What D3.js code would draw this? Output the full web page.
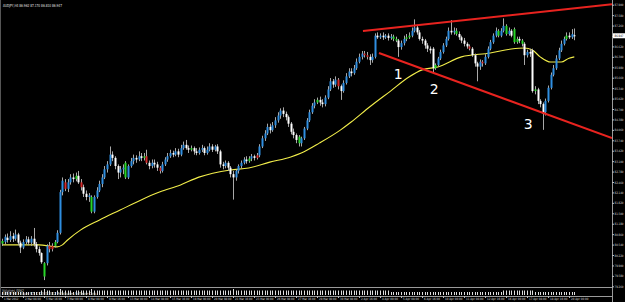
<!DOCTYPE html>
<html>
<head>
<meta charset="utf-8">
<script src="https://cdn.jsdelivr.net/npm/d3@7"></script>
<style>
  body { margin: 0; background: #000; }
  svg { display: block; }
  text { font-family: "DejaVu Sans", sans-serif; }
</style>
</head>
<body>
<svg id="chart" width="625" height="302"></svg>
<script>
// AUDJPY H4 candles (bar 0 = 1 Mar 2012)
let opens = [
  80.57,80.62,80.75,80.68,80.80,80.72,80.85,80.60,80.45,80.62,80.70,80.60,80.72,80.55,80.40,80.28,79.97,79.97,80.50,80.40,
  80.50,80.62,80.90,82.15,82.45,82.25,82.45,82.60,82.55,82.65,82.45,82.30,82.10,82.00,82.00,81.55,82.00,82.20,82.40,82.60,
  82.85,83.00,83.30,83.20,82.95,82.75,82.85,83.05,82.60,82.95,83.10,83.20,83.15,83.25,83.20,83.25,83.05,82.95,83.05,83.00,
  82.90,82.80,83.00,83.15,83.25,83.35,83.30,83.40,83.30,83.50,83.60,83.50,83.45,83.50,83.40,83.35,83.45,83.50,83.35,83.45,
  83.55,83.45,83.55,83.40,83.00,82.95,83.05,82.90,82.70,82.60,82.80,82.95,83.05,83.15,83.10,83.18,83.25,83.20,83.28,83.55,
  83.80,83.95,84.15,84.05,84.20,84.35,84.50,84.65,84.55,84.45,84.25,84.00,83.90,83.85,83.65,83.80,84.10,84.35,84.60,84.80,
  84.90,84.98,84.90,84.85,85.05,85.30,85.55,85.45,85.60,85.40,85.25,85.50,85.70,85.85,85.80,85.95,86.15,86.30,86.40,86.35,
  86.30,86.20,86.30,86.95,86.90,86.95,86.90,86.95,86.88,86.92,86.85,86.80,86.60,86.72,86.85,86.90,86.95,87.10,87.20,87.05,
  86.85,86.80,86.65,86.55,86.55,85.95,86.05,86.25,86.45,86.65,86.85,87.10,87.05,87.10,87.00,86.90,86.80,86.70,86.62,86.55,
  86.35,86.10,86.00,86.15,86.10,86.30,86.55,86.75,86.95,87.10,86.95,87.10,87.25,87.00,87.10,87.15,86.75,86.85,86.80,86.70,
  86.35,86.45,86.50,85.25,85.30,84.95,84.85,84.60,84.95,85.35,85.75,85.95,86.25,86.50,86.70,86.85,86.95,86.90,86.962
]
let highs = [
  80.72,80.85,80.88,80.95,80.90,81.00,80.90,80.66,80.70,80.80,80.78,80.80,81.05,80.62,80.48,80.30,80.00,80.55,80.62,80.58,
  80.68,80.98,82.22,82.60,82.55,82.55,82.70,82.72,82.75,82.80,82.55,82.38,82.20,82.12,82.05,82.05,82.30,82.50,82.70,82.95,
  83.10,83.55,83.40,83.25,83.00,82.95,83.00,83.10,83.00,83.20,83.30,83.28,83.40,83.35,83.35,83.45,83.12,83.15,83.15,83.08,
  82.95,83.08,83.22,83.35,83.45,83.42,83.50,83.48,83.60,83.70,83.75,83.58,83.58,83.55,83.50,83.52,83.60,83.55,83.55,83.65,
  83.62,83.60,83.62,83.45,83.08,83.12,83.10,82.95,82.80,82.85,83.00,83.12,83.22,83.25,83.25,83.32,83.30,83.35,83.62,83.88,
  84.05,84.25,84.25,84.30,84.45,84.60,84.72,84.75,84.62,84.50,84.30,84.10,83.95,83.90,83.85,84.15,84.42,84.68,84.88,85.00,
  85.05,85.08,85.00,85.12,85.40,85.65,85.62,85.70,85.65,85.45,85.58,85.80,85.95,85.95,86.05,86.25,86.40,86.48,86.48,86.45,
  86.38,86.40,87.02,87.05,87.02,87.05,87.00,87.02,87.00,86.98,86.92,86.85,86.80,86.95,87.00,87.05,87.20,87.45,87.28,87.12,
  86.92,86.85,86.72,86.62,86.60,86.10,86.30,86.52,86.72,86.92,87.20,87.43,87.20,87.18,87.08,86.95,86.88,86.75,86.68,86.60,
  86.40,86.15,86.22,86.20,86.38,86.62,86.82,87.02,87.20,87.15,87.18,87.48,87.30,87.20,87.15,87.20,86.92,86.92,86.85,86.75,
  86.52,86.55,86.55,85.40,85.35,85.00,84.90,85.02,85.42,85.82,86.05,86.35,86.58,86.80,86.92,87.05,87.05,87.15,87.170
]
let lows = [
  80.50,80.55,80.60,80.62,80.62,80.66,80.52,80.28,80.40,80.55,80.52,80.50,80.48,80.30,80.20,79.95,79.45,79.90,80.30,80.33,
  80.45,80.58,80.85,82.05,82.18,82.15,82.38,82.45,82.48,82.40,82.20,82.00,81.90,81.85,81.50,81.50,81.95,82.15,82.30,82.55,
  82.75,82.95,83.10,82.85,82.55,82.60,82.70,82.55,82.55,82.90,83.00,83.05,83.10,83.10,83.12,83.00,82.85,82.88,82.90,82.80,
  82.72,82.75,82.95,83.08,83.20,83.22,83.25,83.22,83.25,83.45,83.45,83.35,83.40,83.30,83.28,83.30,83.38,83.28,83.30,83.40,
  83.38,83.40,83.32,82.90,82.85,82.88,82.80,82.60,81.92,82.50,82.72,82.88,83.00,83.02,83.05,83.10,83.12,83.15,83.22,83.50,
  83.72,83.90,83.95,84.00,84.12,84.28,84.40,84.45,84.35,84.15,83.92,83.80,83.65,83.55,83.55,83.75,84.05,84.30,84.55,84.72,
  84.85,84.80,84.75,84.78,85.00,85.25,85.35,85.38,85.30,84.98,85.20,85.45,85.65,85.70,85.75,85.90,86.10,86.22,86.28,86.22,
  86.05,86.12,86.25,86.85,86.85,86.82,86.85,86.80,86.82,86.78,86.75,86.30,86.52,86.65,86.78,86.85,86.90,87.05,86.98,86.80,
  86.70,86.55,86.45,86.40,85.80,85.90,86.00,86.20,86.40,86.60,86.80,86.98,86.98,86.95,86.82,86.72,86.62,86.55,86.50,86.30,
  86.00,85.55,85.90,86.00,86.05,86.25,86.50,86.70,86.90,86.90,86.90,87.05,86.95,86.95,86.90,86.70,86.70,86.72,86.62,86.05,
  86.28,86.30,85.20,85.15,84.85,84.75,84.06,84.50,84.90,85.30,85.70,85.90,86.20,86.45,86.65,86.80,86.85,86.85,86.810
]
let closes = [
  80.65,80.78,80.68,80.80,80.72,80.85,80.60,80.45,80.62,80.70,80.60,80.72,80.55,80.40,80.28,80.00,79.56,80.50,80.40,80.50,
  80.62,80.90,82.15,82.50,82.25,82.45,82.60,82.55,82.65,82.45,82.30,82.10,82.00,82.05,81.55,82.00,82.20,82.40,82.60,82.85,
  83.00,83.30,83.20,82.95,82.75,82.85,82.90,82.60,82.95,83.10,83.20,83.15,83.25,83.20,83.25,83.05,82.95,83.05,83.00,82.90,
  82.80,83.00,83.15,83.25,83.35,83.30,83.40,83.30,83.50,83.60,83.50,83.45,83.50,83.40,83.35,83.45,83.50,83.35,83.45,83.55,
  83.45,83.55,83.40,83.00,82.95,83.05,82.90,82.70,82.60,82.80,82.95,83.05,83.15,83.10,83.18,83.25,83.20,83.28,83.55,83.80,
  83.95,84.15,84.05,84.20,84.35,84.50,84.65,84.55,84.45,84.25,84.00,83.90,83.75,83.65,83.80,84.10,84.35,84.60,84.80,84.90,
  84.98,84.90,84.85,85.05,85.30,85.55,85.45,85.60,85.40,85.25,85.50,85.70,85.85,85.80,85.95,86.15,86.30,86.40,86.35,86.30,
  86.20,86.30,86.95,86.90,86.95,86.90,86.95,86.88,86.92,86.85,86.80,86.60,86.72,86.85,86.90,86.95,87.10,87.20,87.05,86.85,
  86.80,86.65,86.55,86.50,85.95,86.05,86.25,86.45,86.65,86.85,87.10,87.05,87.10,87.00,86.90,86.80,86.70,86.62,86.55,86.35,
  86.10,86.00,86.15,86.10,86.30,86.55,86.75,86.95,87.10,86.95,87.10,87.25,87.00,87.10,86.95,86.75,86.85,86.80,86.70,86.35,
  86.45,86.40,85.25,85.30,84.95,84.85,84.55,84.95,85.35,85.75,85.95,86.25,86.50,86.70,86.85,86.95,86.90,87.00,86.947
]
// bars painted green / red by the pattern indicator
let greenBars = [0,16,20,28,34,47,54,72,94,113,120,149,150,154,155,165,173,189,192,195,196,198,203,215]
let redBars = [18,19,24,30,55,60,97,128,138,139,178,183]

// yellow moving average, sampled along the curve
let maBars = [0,14,21,23,25,30,37,45,53,60,68,75,87,94,102,110,114,121,129,133,140,148,155,160,166,175,186,194,199,202,205,209,213,216,218]
let maValues = [80.53,80.53,80.47,80.53,80.68,80.99,81.29,81.60,81.91,82.15,82.37,82.61,82.83,82.89,83.07,83.23,83.35,83.66,84.06,84.30,84.76,85.25,85.68,85.90,85.99,86.30,86.42,86.54,86.57,86.51,86.30,86.14,86.14,86.26,86.30]

// volume ticks in the sub window
let volumes = [
  2,2,3,2,2,3,2,3,2,2,3,2,3,3,2,3,4,3,3,2,2,3,4,3,3,3,3,2,3,3,3,3,3,3,4,3,3,3,3,3,
  3,3,3,3,3,3,3,3,3,3,3,3,3,3,3,3,3,3,3,3,3,3,3,3,3,3,3,3,3,3,3,3,3,3,3,3,3,3,3,3,
  3,3,3,3,3,3,3,3,4,3,3,3,3,3,3,3,3,3,3,3,3,3,3,3,3,3,3,3,3,3,3,3,3,3,3,3,3,3,3,3,
  3,3,3,3,3,3,3,3,3,3,3,3,3,3,3,3,3,3,3,3,3,3,3,3,3,3,3,3,2,2,2,2,2,2,2,2,2,2,2,2,
  2,2,2,2,2,2,2,2,2,2,2,2,2,2,2,2,2,2,2,2,2,2,2,2,2,2,2,2,2,2,2,3,3,3,3,3,3,3,3,3,
  3,3,3,2,2,2,2,2,2,2,2,2,2,2,2,2,2,2,2
]

// trend lines: [bar, price] anchors, drawn as rays
let upperLine = [[137.5, 87.09], [218, 87.79]]
let lowerLine = [[143.6, 86.42], [218, 84.23]]

// wave counts
let waveLabels = ['1', '2', '3']
let waveBars = [150.9, 164.6, 200.4]
let wavePrices = [85.77, 85.31, 84.24]

let priceTicks = [79.26,79.58,79.90,80.22,80.54,80.86,81.18,81.50,81.82,82.14,82.46,82.78,83.10,83.42,
  83.74,84.06,84.38,84.70,85.02,85.34,85.66,85.98,86.30,86.62,86.94,87.26,87.58,87.90]

let timeBars = [0,8,16,24,32,40,48,56,64,72,80,88,96,104,112,120,128,136,144,152,160,168,176,184,192,200,208,216]
let timeLabels = ['1 Mar 2012','2 Mar 08:00','5 Mar 16:00','7 Mar 00:00','8 Mar 08:00','9 Mar 16:00','13 Mar 00:00',
  '14 Mar 08:00','15 Mar 16:00','19 Mar 00:00','20 Mar 08:00','21 Mar 16:00','23 Mar 00:00','26 Mar 08:00',
  '27 Mar 16:00','29 Mar 00:00','30 Mar 08:00','2 Apr 16:00','4 Apr 00:00','5 Apr 08:00','6 Apr 16:00',
  '10 Apr 00:00','11 Apr 08:00','12 Apr 16:00','16 Apr 00:00','17 Apr 08:00','18 Apr 16:00','20 Apr 00:00']

let header = 'AUDJPY,H4  86.962 87.170 86.810 86.947'
let subTitle = 'Volumes 4862'
let copyright = 'AUDJPY,H4 - Alpari NZ, \u00a9 2001-2012 MetaQuotes Software Corp.'

let W = 625, H = 302
let axisX = 612, mainBottom = 287, subBottom = 296

let svg = d3.select('#chart')
svg.append('rect').attr('width', W).attr('height', H).attr('fill', '#000')

let x = d3.scaleLinear().domain([0, 218]).range([2, 574.3])
let y = d3.scaleLinear().domain([79.26, 87.90]).range([286.3, 4.7])

svg.append('clipPath').attr('id', 'main')
  .append('rect').attr('x', 0).attr('y', 0).attr('width', axisX).attr('height', mainBottom)

let plot = svg.append('g').attr('clip-path', 'url(#main)')

// moving average
plot.append('path')
  .datum(maBars.map((b, i) => [b, maValues[i]]))
  .attr('fill', 'none')
  .attr('stroke', '#f2ee4a')
  .attr('stroke-width', 1.1)
  .attr('d', d3.line().x(d => x(d[0])).y(d => y(d[1])).curve(d3.curveMonotoneX))

let idx = d3.range(closes.length)
let colorOf = i => {
  if (greenBars.includes(i)) return '#27d627'
  if (redBars.includes(i)) return '#d62828'
  return closes[i] >= opens[i] ? '#2f8ee0' : '#ffffff'
}

plot.selectAll('.wick')
  .data(idx)
  .enter().append('line')
  .attr('class', 'wick')
  .attr('x1', i => Math.round(x(i)) + 0.5)
  .attr('x2', i => Math.round(x(i)) + 0.5)
  .attr('y1', i => y(highs[i]))
  .attr('y2', i => y(lows[i]))
  .attr('stroke', '#a8a8a8')
  .attr('stroke-width', 1)

plot.selectAll('.body')
  .data(idx)
  .enter().append('rect')
  .attr('class', 'body')
  .attr('x', i => Math.round(x(i)) - 0.5)
  .attr('width', 2)
  .attr('y', i => y(Math.max(opens[i], closes[i])))
  .attr('height', i => Math.max(1, Math.abs(y(opens[i]) - y(closes[i]))))
  .attr('fill', colorOf)

// trend lines, extended to the price axis
let ray = (pts) => {
  let [a, b] = pts
  let slope = (b[1] - a[1]) / (b[0] - a[0])
  let endBar = x.invert(axisX)
  return [a, [endBar, a[1] + slope * (endBar - a[0])]]
}
;[upperLine, lowerLine].forEach(pts => {
  let r = ray(pts)
  plot.append('line')
    .attr('x1', x(r[0][0])).attr('y1', y(r[0][1]))
    .attr('x2', x(r[1][0])).attr('y2', y(r[1][1]))
    .attr('stroke', '#e8231f')
    .attr('stroke-width', 2)
})

plot.selectAll('.wave')
  .data(waveLabels)
  .enter().append('text')
  .attr('class', 'wave')
  .attr('x', (d, i) => x(waveBars[i]))
  .attr('y', (d, i) => y(wavePrices[i]))
  .attr('text-anchor', 'middle')
  .attr('dominant-baseline', 'central')
  .attr('fill', '#fff')
  .attr('font-family', 'Liberation Sans, Arial, sans-serif')
  .attr('font-size', 14)
  .text(d => d)

// tiny text squeezed the way the shrunken screenshot shows it
let tiny = (sel, width, size) => sel
  .attr('font-size', size || 4)
  .attr('textLength', width)
  .attr('lengthAdjust', 'spacingAndGlyphs')

// header
svg.append('text')
  .attr('x', 3).attr('y', 7)
  .attr('fill', '#e0e0e0')
  .text(header)
  .call(tiny, 59)

// frame lines
svg.append('line').attr('x1', axisX + 0.5).attr('x2', axisX + 0.5).attr('y1', 0).attr('y2', H)
  .attr('stroke', '#9a9a9a')
svg.append('line').attr('x1', 0).attr('x2', axisX).attr('y1', mainBottom + 0.5).attr('y2', mainBottom + 0.5)
  .attr('stroke', '#9a9a9a')
svg.append('line').attr('x1', 0).attr('x2', axisX).attr('y1', subBottom + 0.5).attr('y2', subBottom + 0.5)
  .attr('stroke', '#9a9a9a')
svg.append('line').attr('x1', 0.5).attr('x2', 0.5).attr('y1', 0).attr('y2', subBottom)
  .attr('stroke', '#555')

// price axis
let yAxis = svg.append('g')
  .attr('transform', `translate(${axisX},0)`)
  .call(d3.axisRight(y).tickValues(priceTicks).tickFormat(d3.format('.3f')).tickSize(2))
yAxis.select('.domain').remove()
yAxis.selectAll('line').attr('stroke', '#bbb')
yAxis.selectAll('text').attr('fill', '#ddd').attr('x', 2.5).attr('dy', '0.35em').call(tiny, 9, 3.2)

// current price box
let last = closes[closes.length - 1]
svg.append('rect')
  .attr('x', axisX + 1).attr('y', y(last) - 2.5)
  .attr('width', 12).attr('height', 5)
  .attr('fill', '#fff')
svg.append('text')
  .attr('x', axisX + 2.5).attr('y', y(last) + 1.3)
  .attr('fill', '#000')
  .text(d3.format('.3f')(last))
  .call(tiny, 9, 3.2)

// volume sub window
let v = d3.scaleLinear().domain([0, 4]).range([subBottom - 1, mainBottom + 2])
svg.selectAll('.vol')
  .data(idx)
  .enter().append('line')
  .attr('class', 'vol')
  .attr('x1', i => Math.round(x(i)) + 0.5)
  .attr('x2', i => Math.round(x(i)) + 0.5)
  .attr('y1', v(0))
  .attr('y2', i => v(volumes[i]))
  .attr('stroke', '#ddd')
  .attr('stroke-width', 1)

svg.append('rect').attr('x', 1).attr('y', mainBottom + 1).attr('width', 40).attr('height', 4).attr('fill', '#000')
svg.append('text').attr('x', 2).attr('y', mainBottom + 4.5).attr('fill', '#bbb').text(subTitle).call(tiny, 22)
svg.append('text').attr('x', 2).attr('y', subBottom - 1).attr('fill', '#ddd').text(copyright).call(tiny, 95)

// time axis
let xAxis = svg.append('g')
  .attr('transform', `translate(0,${subBottom})`)
  .call(d3.axisBottom(x).tickValues(timeBars).tickFormat((d, i) => timeLabels[i]).tickSize(2))
xAxis.select('.domain').remove()
xAxis.selectAll('line').attr('stroke', '#bbb')
xAxis.selectAll('text')
  .attr('fill', '#ddd')
  .attr('text-anchor', 'start')
  .attr('dx', 1.5)
  .attr('y', 1.5)
  .attr('dy', '0.71em')
  .each(function(d, i) { d3.select(this).call(tiny, timeLabels[i].length * 1.45, 3) })
</script>
</body>
</html>
